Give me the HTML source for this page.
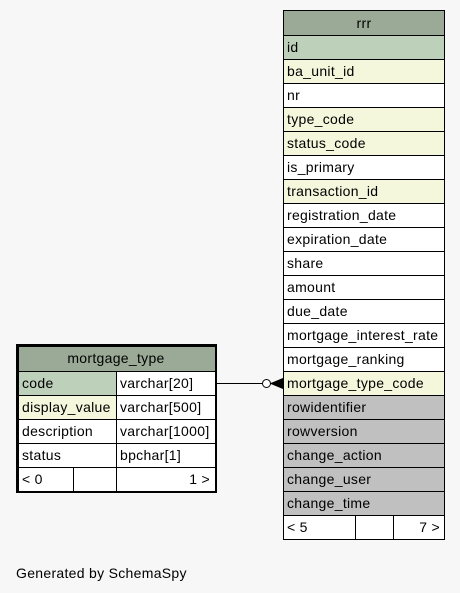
<!DOCTYPE html>
<html><head><style>
html,body{margin:0;padding:0;background:#f7f7f7;}
svg{display:block;}
text{font-family:"Liberation Sans",sans-serif;font-size:14px;letter-spacing:0.3px;fill:#000;}
</style></head><body>
<svg width="460" height="593" viewBox="0 0 460 593" xmlns="http://www.w3.org/2000/svg">
<rect x="0" y="0" width="460" height="593" fill="#f7f7f7"/>
<g stroke="#000" stroke-width="1">
<rect x="283.5" y="10.5" width="161" height="25" fill="#9baa97"/>
<rect x="283.5" y="35.5" width="161" height="24" fill="#bdd0b9"/>
<rect x="283.5" y="59.5" width="161" height="24" fill="#f4f7dc"/>
<rect x="283.5" y="83.5" width="161" height="24" fill="#fff"/>
<rect x="283.5" y="107.5" width="161" height="24" fill="#f4f7dc"/>
<rect x="283.5" y="131.5" width="161" height="24" fill="#f4f7dc"/>
<rect x="283.5" y="155.5" width="161" height="24" fill="#fff"/>
<rect x="283.5" y="179.5" width="161" height="24" fill="#f4f7dc"/>
<rect x="283.5" y="203.5" width="161" height="24" fill="#fff"/>
<rect x="283.5" y="227.5" width="161" height="24" fill="#fff"/>
<rect x="283.5" y="251.5" width="161" height="24" fill="#fff"/>
<rect x="283.5" y="275.5" width="161" height="24" fill="#fff"/>
<rect x="283.5" y="299.5" width="161" height="24" fill="#fff"/>
<rect x="283.5" y="323.5" width="161" height="24" fill="#fff"/>
<rect x="283.5" y="347.5" width="161" height="24" fill="#fff"/>
<rect x="283.5" y="371.5" width="161" height="24" fill="#f4f7dc"/>
<rect x="283.5" y="395.5" width="161" height="24" fill="#c0c0c0"/>
<rect x="283.5" y="419.5" width="161" height="24" fill="#c0c0c0"/>
<rect x="283.5" y="443.5" width="161" height="24" fill="#c0c0c0"/>
<rect x="283.5" y="467.5" width="161" height="24" fill="#c0c0c0"/>
<rect x="283.5" y="491.5" width="161" height="24" fill="#c0c0c0"/>
<rect x="283.5" y="515.5" width="161" height="24" fill="#fff"/>
<line x1="355.5" y1="515.5" x2="355.5" y2="539.5"/>
<line x1="393.5" y1="515.5" x2="393.5" y2="539.5"/>
</g>
<text x="364" y="28" text-anchor="middle">rrr</text>
<g>
<text x="287" y="52">id</text>
<text x="287" y="76">ba_unit_id</text>
<text x="287" y="100">nr</text>
<text x="287" y="124">type_code</text>
<text x="287" y="148">status_code</text>
<text x="287" y="172">is_primary</text>
<text x="287" y="196">transaction_id</text>
<text x="287" y="220">registration_date</text>
<text x="287" y="244">expiration_date</text>
<text x="287" y="268">share</text>
<text x="287" y="292">amount</text>
<text x="287" y="316">due_date</text>
<text x="287" y="340">mortgage_interest_rate</text>
<text x="287" y="364">mortgage_ranking</text>
<text x="287" y="388">mortgage_type_code</text>
<text x="287" y="412">rowidentifier</text>
<text x="287" y="436">rowversion</text>
<text x="287" y="460">change_action</text>
<text x="287" y="484">change_user</text>
<text x="287" y="508">change_time</text>
<text x="287" y="532">&lt; 5</text>
<text x="440" y="532" text-anchor="end">7 &gt;</text>
</g>
<g stroke="#000" stroke-width="1">
<rect x="18.5" y="346.5" width="197" height="25" fill="#9baa97"/>
<rect x="18.5" y="371.5" width="98" height="24" fill="#bdd0b9"/>
<rect x="116.5" y="371.5" width="99" height="24" fill="#fff"/>
<rect x="18.5" y="395.5" width="98" height="24" fill="#f4f7dc"/>
<rect x="116.5" y="395.5" width="99" height="24" fill="#fff"/>
<rect x="18.5" y="419.5" width="98" height="24" fill="#fff"/>
<rect x="116.5" y="419.5" width="99" height="24" fill="#fff"/>
<rect x="18.5" y="443.5" width="98" height="24" fill="#fff"/>
<rect x="116.5" y="443.5" width="99" height="24" fill="#fff"/>
<rect x="18.5" y="467.5" width="197" height="24" fill="#fff"/>
<line x1="73.5" y1="467.5" x2="73.5" y2="491.5"/>
<line x1="116.5" y1="467.5" x2="116.5" y2="491.5"/>
</g>
<rect x="17" y="345" width="199" height="147" fill="none" stroke="#000" stroke-width="2"/>
<text x="116" y="363" text-anchor="middle">mortgage_type</text>
<text x="22" y="388">code</text>
<text x="120" y="388">varchar[20]</text>
<text x="22" y="412">display_value</text>
<text x="120" y="412">varchar[500]</text>
<text x="22" y="436">description</text>
<text x="120" y="436">varchar[1000]</text>
<text x="22" y="460">status</text>
<text x="120" y="460">bpchar[1]</text>
<text x="22" y="484">&lt; 0</text>
<text x="210" y="484" text-anchor="end">1 &gt;</text>
<g stroke="#000" stroke-width="1" fill="none">
<line x1="216" y1="383.5" x2="262" y2="383.5"/>
<circle cx="266.5" cy="383.5" r="4" fill="#fff"/>
<line x1="271" y1="383.5" x2="283" y2="383.5"/>
<path d="M271 383.5 L283 378.5 L283 388.5 Z" fill="#000"/>
</g>
<text x="16" y="578">Generated by SchemaSpy</text>
</svg>
</body></html>
